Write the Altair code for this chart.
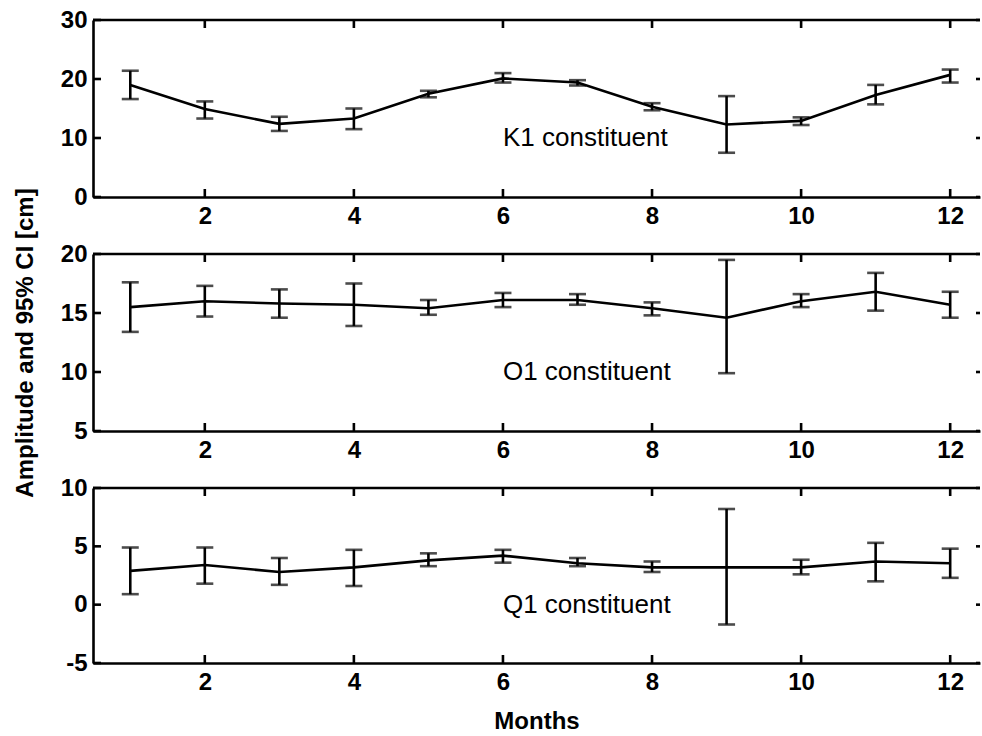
import altair as alt
import pandas as pd

months = list(range(1, 13))
x_ticks = [2, 4, 6, 8, 10, 12]

k1_amp = [19.0, 14.9, 12.4, 13.3, 17.5, 20.1, 19.4, 15.3, 12.3, 12.9, 17.3, 20.7]
k1_lo = [16.6, 13.3, 11.2, 11.5, 16.9, 19.4, 18.9, 14.7, 7.5, 12.2, 15.7, 19.4]
k1_hi = [21.4, 16.2, 13.6, 15.0, 18.0, 21.0, 19.8, 15.9, 17.1, 13.5, 19.0, 21.6]

o1_amp = [15.5, 16.0, 15.8, 15.7, 15.4, 16.1, 16.1, 15.4, 14.6, 16.0, 16.8, 15.7]
o1_lo = [13.4, 14.7, 14.6, 13.9, 14.85, 15.5, 15.7, 14.8, 9.9, 15.5, 15.2, 14.6]
o1_hi = [17.6, 17.3, 17.0, 17.5, 16.1, 16.7, 16.6, 15.9, 19.5, 16.6, 18.4, 16.8]

q1_amp = [2.9, 3.4, 2.8, 3.2, 3.8, 4.2, 3.55, 3.2, 3.2, 3.2, 3.7, 3.55]
q1_lo = [0.9, 1.8, 1.7, 1.6, 3.3, 3.6, 3.3, 2.8, -1.7, 2.6, 2.0, 2.3]
q1_hi = [4.9, 4.9, 4.0, 4.7, 4.4, 4.7, 4.0, 3.7, 8.2, 3.85, 5.3, 4.8]

labels = ["K1 constituent", "O1 constituent", "Q1 constituent"]
label_y = [10, 10, 0]
label_x = 6
y_domains = [[0, 30], [5, 20], [-5, 10]]
y_ticks = [[0, 10, 20, 30], [5, 10, 15, 20], [-5, 0, 5, 10]]
x_domain = [0.5, 12.4]

FONT = "Liberation Sans"
W = 887
HEIGHTS = [177, 177, 175]
LW = 2.6


def panel(i, amp, lo, hi, show_xtitle, show_ytitle):
    H = HEIGHTS[i]
    df = pd.DataFrame({"month": months, "amp": amp, "lo": lo, "hi": hi})
    xs = alt.Scale(domain=x_domain, nice=False, zero=False)
    ys = alt.Scale(domain=y_domains[i], nice=False, zero=False)

    xaxis = alt.Axis(values=x_ticks, ticks=False, grid=False, domainColor="black",
                     domainWidth=LW, labelFont=FONT, labelFontSize=24,
                     labelFontWeight="bold", labelColor="black", labelPadding=7,
                     titleFont=FONT, titleFontSize=24, titleFontWeight="bold",
                     titleColor="black", titlePadding=15)
    yaxis = alt.Axis(values=y_ticks[i], ticks=False, grid=False, domainColor="black",
                     domainWidth=LW, labelFont=FONT, labelFontSize=24,
                     labelFontWeight="bold", labelColor="black", labelPadding=6,
                     labelExpr="'' + datum.value",
                     titleFont=FONT, titleFontSize=24, titleFontWeight="bold",
                     titleColor="black", titlePadding=23)

    xtitle = "Months" if show_xtitle else ""
    ytitle = "Amplitude and 95% CI [cm]" if show_ytitle else ""

    def X(f):
        return alt.X(f, scale=xs, axis=xaxis, title=xtitle)

    def Y(f):
        return alt.Y(f, scale=ys, axis=yaxis, title=ytitle)

    base = alt.Chart(df)
    line = base.mark_line(color="black", strokeWidth=LW).encode(x=X("month:Q"), y=Y("amp:Q"))
    bars = base.mark_rule(color="black", strokeWidth=LW).encode(
        x=X("month:Q"), y=Y("lo:Q"), y2="hi:Q")
    cap_lo = base.mark_tick(color="black", orient="horizontal", size=17, thickness=LW).encode(
        x=X("month:Q"), y=Y("lo:Q"))
    cap_hi = base.mark_tick(color="black", orient="horizontal", size=17, thickness=LW).encode(
        x=X("month:Q"), y=Y("hi:Q"))

    xt = alt.Chart(pd.DataFrame({"xt": x_ticks}))
    xtick_bottom = xt.mark_rule(color="black", strokeWidth=LW).encode(
        x=X("xt:Q"), y=alt.value(H), y2=alt.value(H - 8))
    xtick_top = xt.mark_rule(color="black", strokeWidth=LW).encode(
        x=X("xt:Q"), y=alt.value(0), y2=alt.value(8))
    yt = alt.Chart(pd.DataFrame({"yt": y_ticks[i]}))
    ytick_left = yt.mark_rule(color="black", strokeWidth=LW).encode(
        y=Y("yt:Q"), x=alt.value(0), x2=alt.value(8))
    ytick_right = yt.mark_rule(color="black", strokeWidth=LW).encode(
        y=Y("yt:Q"), x=alt.value(W - 4), x2=alt.value(W))
    top_border = alt.Chart(pd.DataFrame({"b": [0]})).mark_rule(
        color="black", strokeWidth=LW).encode(
        x=alt.value(0), x2=alt.value(W), y=alt.value(0))

    txt = alt.Chart(pd.DataFrame({"tx": [label_x], "ty": [label_y[i]], "t": [labels[i]]})).mark_text(
        align="left", baseline="middle", font=FONT, fontSize=26, color="black").encode(
        x=X("tx:Q"), y=Y("ty:Q"), text="t:N")

    return alt.layer(line, bars, cap_lo, cap_hi, xtick_bottom, xtick_top,
                     ytick_left, ytick_right, top_border, txt).properties(width=W, height=H)


p1 = panel(0, k1_amp, k1_lo, k1_hi, False, False)
p2 = panel(1, o1_amp, o1_lo, o1_hi, False, True)
p3 = panel(2, q1_amp, q1_lo, q1_hi, True, False)

chart = alt.vconcat(p1, p2, p3, spacing=57, bounds="flush").properties(
    padding={"left": 13, "top": 8, "right": 0, "bottom": 2},
    background="white",
).configure_view(stroke=None)

chart.save("out.html", embed_options={"renderer": "svg", "actions": False})
